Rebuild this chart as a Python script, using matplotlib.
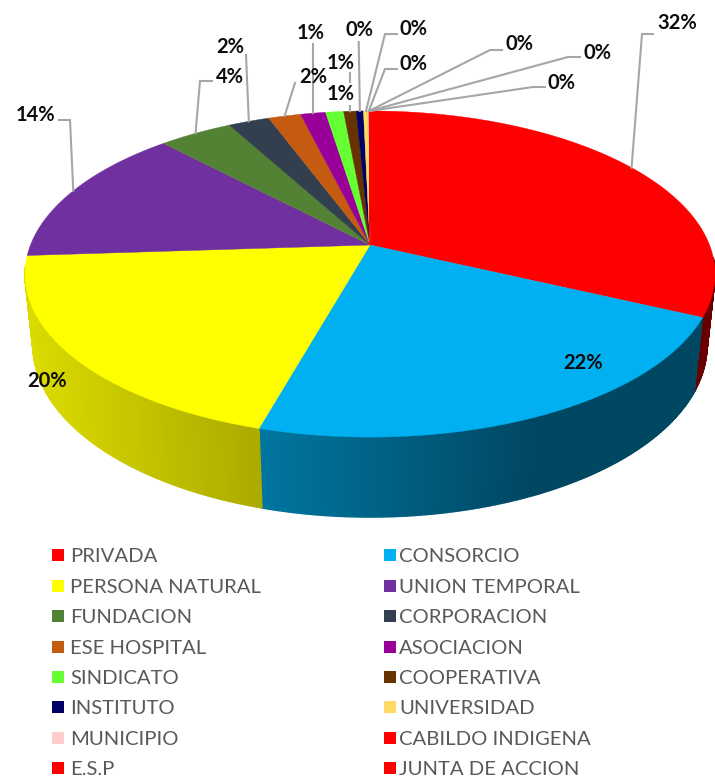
import numpy as np
import matplotlib
matplotlib.use("Agg")
import matplotlib.pyplot as plt
from matplotlib.colors import to_rgb
from matplotlib.patches import Polygon, Rectangle

categories = ["PRIVADA", "CONSORCIO", "PERSONA NATURAL", "UNION TEMPORAL",
              "FUNDACION", "CORPORACION", "ESE HOSPITAL", "ASOCIACION",
              "SINDICATO", "COOPERATIVA", "INSTITUTO", "UNIVERSIDAD",
              "MUNICIPIO", "CABILDO INDIGENA", "E.S.P", "JUNTA DE ACCION"]
values = [32.0, 22.4, 19.6, 14.0, 4.1, 2.3, 1.8, 1.4, 1.0, 0.7, 0.4, 0.28,
          0.02, 0.02, 0.02, 0.02]
colors = ["#FF0000", "#00B0F0", "#FFFF00", "#7030A0", "#548235", "#323F4F",
          "#C55A11", "#990099", "#66FF33", "#663300", "#000066", "#FFD966",
          "#FFCCCC", "#FF0000", "#FF0000", "#FF0000"]
pct_labels = ["32%", "22%", "20%", "14%", "4%", "2%", "2%", "1%", "1%", "1%",
              "0%", "0%", "0%", "0%", "0%", "0%"]

# label centre in image pixels, then the elbow of the leader line (None = no leader)
label_pos = [(677, 23), (583, 363), (47, 381), (35, 115), (230, 77), (230, 47),
             (313, 77), (311, 33), (341, 94), (341, 63), (360, 30), (414, 29),
             (414, 64), (519, 44), (597, 53), (562, 83)]
leader_pts = [[(653, 34), (642, 34)], None, None, [(59, 120), (70, 120)],
              [(212, 81), (200, 81)], [(246, 55)], [(295, 83)], [(313, 44)],
              None, [(350, 73)], [(358.7, 42)], [(397, 34), (385, 34)],
              [(397, 69), (385, 69)], [(502, 50), (490, 50)],
              [(580, 57), (568, 57)], [(545, 87), (533, 87)]]

# perspective of the disc, fitted on the picture
CX, CY = 370, 245
G, F, K = 339.5, 157.9, 0.178
DROP_W, DROP_Y = 0.023, 72


def project(deg, depth=0.0):
    a = np.radians(deg)
    x, y = np.sin(a), np.cos(a)
    w = 1 + K * y + DROP_W * depth
    return CX + G * x / w, CY + (-F * y + DROP_Y * depth) / w


def side_shade(px):
    return np.interp(px, [25, 258, 530], [0.86, 0.67, 0.41])


plt.rcParams["font.family"] = ["Lato", "DejaVu Sans"]

fig = plt.figure(figsize=(7.15, 7.79), dpi=100)
ax = fig.add_axes([0, 0, 1, 1])
ax.set_xlim(0, 715)
ax.set_ylim(779, 0)
ax.axis("off")

total = sum(values)
edges = np.cumsum([0] + values) / total * 360

# side wall first, only the part facing the viewer
for i, col in enumerate(colors):
    base = np.array(to_rgb(col))
    steps = np.arange(edges[i], edges[i + 1], 0.5)
    steps = np.append(steps, edges[i + 1])
    for a0, a1 in zip(steps[:-1], steps[1:]):
        if a1 < 95 or a0 > 262:
            continue
        x0, y0 = project(a0)
        x1, y1 = project(a1)
        x2, y2 = project(a1, 1)
        x3, y3 = project(a0, 1)
        c = base * side_shade((x0 + x1) / 2)
        ax.add_patch(Polygon([(x0, y0), (x1, y1), (x2, y2), (x3, y3)], closed=True,
                             facecolor=c, edgecolor=c, linewidth=1.0, zorder=1))

# top of the pie
for i, col in enumerate(colors):
    angles = np.linspace(edges[i], edges[i + 1], max(3, int(values[i] * 8)))
    xs, ys = project(angles)
    pts = [(CX, CY)] + list(zip(xs, ys))
    ax.add_patch(Polygon(pts, closed=True, facecolor=col, edgecolor=col,
                         linewidth=0.3, zorder=2))

# leaders and labels
for i, lab in enumerate(pct_labels):
    if leader_pts[i] is not None:
        ax_mid = (edges[i] + edges[i + 1]) / 2
        ex, ey = project(ax_mid)
        line = leader_pts[i] + [(ex, ey)]
        ax.plot([p[0] for p in line], [p[1] for p in line], color="#A6A6A6",
                lw=1.5, zorder=3, solid_joinstyle="miter")
for i, lab in enumerate(pct_labels):
    bb = dict(facecolor="white", edgecolor="none", pad=1) if i == 8 else None
    ax.text(label_pos[i][0], label_pos[i][1], lab, ha="center", va="center",
            fontsize=14.5, fontweight="bold", color="#0D0D0D", zorder=4, bbox=bb)

# legend, two columns filled row by row
row_y = [555, 586, 616, 647, 677, 707, 738, 768]
col_x = [52, 384]
for i, name in enumerate(categories):
    x = col_x[i % 2]
    y = row_y[i // 2]
    ax.add_patch(Rectangle((x, y - 6), 12, 12, facecolor=colors[i], edgecolor="none", zorder=2))
    ax.text(x + 18 if i % 2 == 0 else x + 15, y + 1.5, name, ha="left", va="center",
            fontsize=14.6, color="#595959")

fig.savefig("out.png", dpi=100)
